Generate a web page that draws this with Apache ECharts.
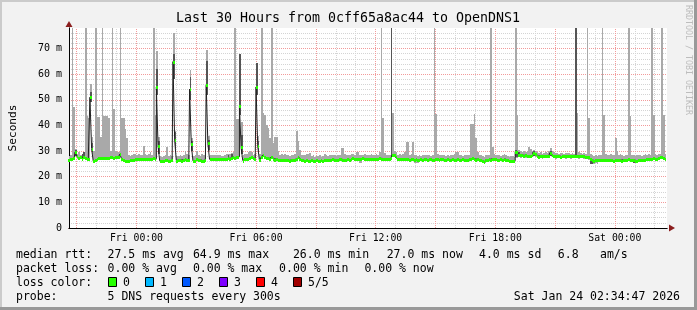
<!DOCTYPE html>
<html><head><meta charset="utf-8">
<script src="https://cdn.jsdelivr.net/npm/echarts@6/dist/echarts.min.js"></script>
<style>
html,body{margin:0;padding:0;background:#f2f2f2;}
#wrap{position:relative;width:697px;height:310px;overflow:hidden;}
#chart{position:absolute;left:0;top:0;width:697px;height:310px;}
.b{position:absolute;pointer-events:none;}
</style></head><body>
<div id="wrap"><div id="chart"></div>
<div class="b" style="left:0;top:0;width:697px;height:2px;background:#cbcbcb"></div>
<div class="b" style="left:0;top:0;width:2px;height:310px;background:#cbcbcb"></div>
<div class="b" style="right:0;top:0;width:3px;height:310px;background:#999"></div>
<div class="b" style="left:0;bottom:0;width:697px;height:3px;background:#999"></div>
</div>
<script>
// time in minutes relative to Fri 00:00; one step every 5 minutes
const stepStartMinute = -205;
const stepMinutes = 5;
const xMinMinute = -203;
const xMaxMinute = 1597;

// median RTT per 5-minute step (ms), one row per hour
const medianMs = [
 26.6,26.8,27,27.2,29.5,28,27.2,27.6,27,27.8,27.2,26.8,
 27,51,31,26,26.5,27,27.2,27.2,27.3,27.4,27.3,27.3,
 27.4,27.5,27.5,27.4,27.5,27.5,27.6,28.8,27,26.4,26.2,26.3,
 26.3,26.4,26.5,26.6,26.8,26.8,26.9,26.9,27,27,27,27,
 27,27,27,27.2,27,55,32,26.2,26,26.2,26.5,26.4,
 26.3,26.2,26.4,64.9,34.3,26.3,26.6,26.5,26.2,26.6,26.8,26.7,
 26.4,54.2,32.8,26.2,26.3,26.8,26.5,26.6,26.3,26.2,26.5,55.7,
 33,26.8,27,26.9,27,27,27.1,27,26.9,27,27,27,
 27.2,27,27.3,27.5,27.4,27.6,27.8,47.7,31.4,26.3,26.8,27,
 27,27.3,27.5,27.2,27,55,32,26.5,27.5,28.5,27.6,27.3,
 27.2,27,27.6,27,26.6,26.8,26.5,26.4,26.5,26.6,26.4,26.5,
 26.4,26.3,26.5,26.6,26.4,27,27.5,26.8,26.5,26.4,26.3,26.4,
 26.3,26.2,26.4,26.3,26.2,26.5,26.3,26.2,26.4,26.3,26.6,26.4,
 26.4,26.6,26.5,26.8,26.7,26.6,26.5,26.9,27,26.7,26.6,26.7,
 26.8,26.7,27,27.2,26.9,27,27.1,26.8,26.9,27.3,27,26.8,
 26.9,27,26.8,27.1,27,26.9,26.8,27.2,27,27.1,26.9,27,
 27,26.9,27.2,28.5,28.3,27.5,27,26.8,27,26.9,26.8,27,
 26.8,26.7,27,26.9,26.6,26.8,26.7,26.6,26.8,26.7,26.9,26.8,
 26.7,26.8,26.9,26.7,26.6,27,26.8,26.7,26.9,26.8,26.6,26.7,
 26.8,26.7,26.5,26.8,26.6,26.7,26.9,26.5,26.6,26.8,26.7,26.6,
 26.7,26.8,27,27.2,26.9,26.6,26.8,26.6,26.5,26.3,25.6,26.5,
 26.6,26.8,26.7,27,26.9,26.8,26.7,26.5,26.8,26.6,26.9,26.7,
 26.4,26.2,26.3,26,26.2,29.8,29.5,28.6,28.3,28.4,28.2,28.3,
 28.2,28,28.1,28.6,29.2,28.8,28.1,27.8,28,27.9,28.2,28,
 28,28.2,29.4,28.6,28.1,27.9,28,28.2,27.8,28,28.1,27.9,
 28,28.1,27.9,28,28.2,28.1,28,27.9,28,28.1,27.9,27.8,
 27.8,27.5,26.8,26.5,26.3,26.6,26.4,26.5,26.7,26.4,26.5,26.6,
 26.6,26.4,26.5,26.7,26.3,26.5,26.6,26.4,26.5,26.3,26.6,26.5,
 26.6,26.8,26.5,26.4,26.6,26.3,26.2,26.4,26.5,26.6,26.4,26.5,
 26.8,27,26.9,27.1,27.2,27,26.9,27.3,27.5,27.6,27.4,27
];

// slowest ping per step (top of the smoke, ms)
const smokeTopMs = [
 28,28.5,85,47,31,29,29.5,28.5,29,29.5,85,43.7,
 43,56,35.6,30,85,43.4,43.4,35.6,85,43.7,43.7,43.7,
 43,30,85,46.4,30,29.5,29.8,85,43,43,38.5,35,
 28.5,28,28.6,29,28.8,28.5,28.8,28.4,28.4,32,29,28.6,
 29,29.5,28.5,85,44,69,35.6,28,27.5,28,28.5,31.4,
 28,28.5,28,76,38,28,28.2,28.5,28,28.5,30,29,
 28.5,61.6,35,28,28.5,30,28.5,28,29,28.5,28,69.3,
 36,28.5,28.6,28.5,28.5,28.5,28.6,28.4,28.2,28,28.5,28.8,
 28.8,29,29.2,29.5,85,42.5,42.5,68,41.5,28.5,29,29,
 29.5,30,29.5,28.6,29,64.4,36,29,85,44.7,44,40,
 39,35,85,33,35.6,35.6,30,28.5,29,28.5,29,28.5,
 28.5,28,28.6,28.3,29,37.8,34,30.5,28.6,28.4,28.5,29,
 29,29.2,28,28.4,27.8,28.2,28,28.3,27.8,28.2,28.9,28.5,
 28.2,28.4,28.6,28.3,28.5,28.2,28.6,28.5,31.3,31.3,29,28.5,
 28.4,28.5,29,28.9,28.3,29.5,29.8,28.6,28.4,28.5,28.8,28.4,
 28.5,28.4,28.8,28.5,28.6,29,28.5,29.5,85,42.8,29.2,28.6,
 28.5,28.6,85,44.8,30,29.5,28.5,29,28.6,29,29.5,33.7,
 33.7,28.5,29,33.4,28.6,28.4,28,28.5,28.2,28.6,28.4,28.5,
 28.4,28.6,28.2,28.5,85,44.4,29,28.5,28.3,28.6,28.5,28.2,
 28.4,28.2,28.5,28.6,29,29.8,29.5,28.6,28.4,28.2,28.6,28.5,
 28.5,28.6,40.6,40.6,44.4,35,29.5,28.6,28.5,28.2,27.6,28.4,
 28.5,28.4,85,31.7,29,28.6,28.4,28.5,28.2,28.6,28.8,28.4,
 28,27.8,28.2,28,27.5,85,44,30.5,30.2,29.8,30,29.5,
 30,31.5,31,30,30.5,30,29.5,29.2,29.5,29,29.3,29.5,
 29.4,30,31.2,30,29.5,29.2,29.4,29,29.3,29.2,29,29.4,
 29.2,29.4,29,29.3,29,85,44.8,29.5,29.2,29,29.3,29,
 85,42.8,29,28.5,28.2,28.4,28,28.5,28.3,85,44,29,
 28.5,28.4,29,28.6,28.4,35,30,28.5,28.8,28.4,28.2,28.6,
 28.5,85,43.7,28.6,28.5,28.2,28.4,28.5,28.6,28.2,28.4,28.7,
 28.6,28.8,28.5,85,44,29,28.5,28.8,29,85,44,29
];

// fastest ping per step (bottom of the smoke, ms)
const smokeLowMs = [
 26,26.2,26.3,26.5,28,27,26.5,26.8,26.3,27,26.5,26.2,
 26.4,49,29,25.5,25.9,26.4,26.6,26.6,26.7,26.8,26.7,26.6,
 26.8,26.9,26.8,26.8,26.9,26.9,27,28,26.3,25.8,25.6,25.7,
 25.7,25.8,25.9,26,26.2,26.2,26.3,26.3,26.4,26.4,26.4,26.4,
 26.4,26.4,26.4,26.6,26.4,52,29,25.6,25.4,25.6,25.9,25.8,
 25.7,25.6,25.8,58,31,25.7,26,25.9,25.6,26,26.2,26.1,
 25.8,50,30,25.6,25.7,26.2,25.9,26,25.7,25.6,25.9,52,
 30,26.2,26.4,26.3,26.4,26.4,26.5,26.4,26.3,26.4,26.4,26.4,
 26.6,26.4,26.7,26.9,26.8,27,27.2,44,29,25.7,26.2,26.4,
 26.4,26.7,26.9,26.6,26.4,52,29,25.9,26.9,27.9,27,26.7,
 26.6,26.4,27,26.4,25.8,26.2,25.9,25.8,25.9,26,25.8,25.9,
 25.8,25.7,25.9,26,25.8,26.4,26.9,26.2,25.9,25.8,25.7,25.8,
 25.7,25.6,25.8,25.7,25.6,25.9,25.7,25.6,25.8,25.7,26,25.8,
 25.8,26,25.9,26.2,26.1,26,25.9,26.3,26.4,26.1,26,26.1,
 26.2,26.1,26.4,26.6,26.3,26.4,26.5,25.5,25.5,26.7,26.4,26.2,
 26.3,26.4,26.2,26.5,26.4,26.3,26.2,26.6,26.4,26.5,26.3,26.4,
 26.4,26.3,26.6,27.9,27.7,26.9,26.4,26.2,26.4,26.3,26.2,26.4,
 26.2,26.1,26.4,26.3,25.2,25.3,25.4,26,26.2,26.1,26.3,26.2,
 26.1,26.2,26.3,26.1,26,26.4,26.2,26.1,26.3,26.2,26,26.1,
 26.2,26.1,25.9,26.2,26,26.1,26.3,25.9,26,26.2,26.1,26,
 26.1,26.2,26.4,26.6,26.3,26,26.2,26,25.9,25.7,25,25.9,
 26,26.2,26.1,26.4,26.3,26.2,26.1,25.9,26.2,26,26.3,26.1,
 25.8,25.6,25.7,25.4,25.6,27.2,27.3,27.5,27.4,27.5,27.3,27.4,
 27.3,27.2,27.3,27.6,28,27.8,27.3,27,27.2,27.1,27.4,27.2,
 27.2,27.4,28.2,27.6,27.3,27.1,27.2,27.4,27,27.2,27.3,27.1,
 27.2,27.3,27.1,27.2,27.4,27.3,27.2,27.1,27.2,27.3,27.1,27,
 26.8,26.5,25,24.8,25,25.2,25,25.6,25.9,25.7,25.8,25.9,
 25.9,25.7,25.8,26,25.6,25.8,25.9,25.7,25.8,25.6,25.9,25.8,
 25.9,26.1,25.8,25.7,25.3,25.2,25.3,25.7,25.8,25.9,25.7,25.8,
 26.1,26.3,26.2,26.4,26.5,26.3,26.2,26.6,26.8,26.9,26.7,26.3
];

// steps where the inner (dark) smoke band is visible
const darkSteps  = [4, 8, 9, 13, 14, 53, 54, 63, 64, 73, 74, 83, 84, 96, 98, 103, 104, 113, 114, 194, 269, 270, 271, 279, 280, 290, 305, 314, 315, 340, 341];
const darkLowMs  = [28, 27, 27.5, 49, 29.5, 52, 29, 58, 31, 50, 30, 52, 30.5, 27, 27.2, 44, 29, 52, 29, 27.5, 27.5, 27.5, 27.6, 27.6, 28, 28.2, 27.5, 25, 24.8, 25.3, 25.2];
const darkHighMs = [30.5, 29, 29.5, 53, 33, 62, 34, 68, 37.6, 59, 34, 65, 34.5, 28.6, 29, 67.7, 36.3, 64.2, 34, 85, 30.4, 30.2, 29.5, 29.6, 30, 30.2, 85, 26.5, 26.3, 26.4, 26.2];

// grid and tick positions
const hourGridMinutes = [-180,-120,-60,0,60,120,180,240,300,360,420,480,540,600,660,720,780,840,900,960,1020,1080,1140,1200,1260,1320,1380,1440,1500,1560];
const majorGridMinutes = [-180,0,180,360,540,720,900,1080,1260,1440];
const xTickMinutes = [0,360,720,1080,1440];
const xTickLabels = ['Fri 00:00','Fri 06:00','Fri 12:00','Fri 18:00','Sat 00:00'];
const yMax = 78;
const yMinorGrid = [2,4,6,8,12,14,16,18,22,24,26,28,32,34,36,38,42,44,46,48,52,54,56,58,62,64,66,68,72,74,76];
const yMajorGrid = [10,20,30,40,50,60,70];

const smokeData = medianMs.map((m, i) => [stepStartMinute + i*stepMinutes, stepStartMinute + (i+1)*stepMinutes, smokeLowMs[i], smokeTopMs[i]]);
const darkData = darkSteps.map((s, k) => [stepStartMinute + s*stepMinutes, stepStartMinute + (s+1)*stepMinutes, darkLowMs[k], darkHighMs[k]]);
const medianLine = medianMs.map((m, i) => [stepStartMinute + i*stepMinutes + stepMinutes/2, m]);
const medianBars = medianMs.map((m, i) => [stepStartMinute + i*stepMinutes, stepStartMinute + (i+1)*stepMinutes, m]);

function rectRenderer(color) {
  return function (params, api) {
    const a = api.coord([api.value(0), api.value(3)]);
    const b = api.coord([api.value(1), api.value(2)]);
    const x0 = Math.round(a[0]), x1 = Math.round(b[0]);
    const y0 = Math.round(a[1]), y1 = Math.round(b[1]);
    const cs = params.coordSys;
    const shape = echarts.graphic.clipRectByRect(
      {x: x0, y: y0, width: x1 - x0, height: y1 - y0},
      {x: cs.x, y: cs.y, width: cs.width, height: cs.height});
    return shape ? {type: 'rect', shape: shape, style: {fill: color}} : null;
  };
}

const mono = '"DejaVu Sans Mono", monospace';
function txt(x, y, s, size, extra) {
  return Object.assign({type: 'text', x: x, y: y, silent: true,
    style: {text: s, font: size + 'px ' + mono, fill: '#000', textAlign: 'left', textVerticalAlign: 'middle', align: 'left', verticalAlign: 'middle'}}, extra || {});
}
const lossColors = ['#26ff00','#00b8ff','#0059ff','#7e00ff','#ff0000','#a00000'];
const lossLabels = ['0','1','2','3','4','5/5'];
const lossBoxX = [108,145,182,219,256,293];

const graphics = [];
graphics.push({type:'text', x:348, y:19, silent:true, style:{text:'Last 30 Hours from 0cff65a8ac44 to OpenDNS1', font:'13.3px '+mono, fill:'#000', textAlign:'center', textVerticalAlign:'middle', align:'center', verticalAlign:'middle'}});
graphics.push({type:'text', x:688, y:60, rotation:-Math.PI/2, silent:true, style:{text:'RRDTOOL / TOBI OETIKER', font:'8.3px '+mono, fill:'#bdbdbd', textAlign:'center', textVerticalAlign:'middle', align:'center', verticalAlign:'middle'}});
const row1 = 255, row2 = 269, row3 = 283, row4 = 297, lf = 11.5;
[[16,'median rtt:'],[107.6,'27.5 ms avg'],[192.9,'64.9 ms max'],[292.9,'26.0 ms min'],[386.7,'27.0 ms now'],[479,'4.0 ms sd'],[557.8,'6.8'],[600,'am/s']]
  .forEach(p => graphics.push(txt(p[0], row1, p[1], lf)));
[[16,'packet loss:'],[107.6,'0.00 % avg'],[192.9,'0.00 % max'],[279.1,'0.00 % min'],[364.4,'0.00 % now']]
  .forEach(p => graphics.push(txt(p[0], row2, p[1], lf)));
graphics.push(txt(16, row3, 'loss color:', lf));
lossColors.forEach((c, i) => {
  graphics.push({type:'rect', silent:true, shape:{x:lossBoxX[i]+0.5, y:277.5, width:8, height:9}, style:{fill:c, stroke:'#000', lineWidth:1}});
  graphics.push(txt(lossBoxX[i]+15, row3, lossLabels[i], lf));
});
graphics.push(txt(16, row4, 'probe:', lf));
graphics.push(txt(107.6, row4, '5 DNS requests every 300s', lf));
graphics.push({type:'text', x:680, y:row4, silent:true, style:{text:'Sat Jan 24 02:34:47 2026', font:lf+'px '+mono, fill:'#000', textAlign:'right', textVerticalAlign:'middle', align:'right', verticalAlign:'middle'}});

const gridLineStyle = (color) => ({color: color, width: 1, type: [1, 1]});

const chart = echarts.init(document.getElementById('chart'), null, {renderer: 'canvas'});
chart.setOption({
  animation: false,
  backgroundColor: 'transparent',
  grid: {left: 67, right: 30, top: 28, bottom: 82, show: true, backgroundColor: '#ffffff', borderWidth: 0},
  xAxis: [
    {type:'value', min:xMinMinute, max:xMaxMinute, position:'bottom', z:1,
     axisLine:{show:true, onZero:false, lineStyle:{color:'#8b1e1e', width:1}, symbol:['none','triangle'], symbolSize:[7,6], symbolOffset:[0,5]},
     axisTick:{show:false}, axisLabel:{show:false}, splitLine:{show:false}},
    {type:'value', min:xMinMinute, max:xMaxMinute, position:'bottom', z:2,
     axisLine:{show:true, onZero:false, lineStyle:{color:'#000', width:1}},
     axisTick:{show:false}, splitLine:{show:false},
     axisLabel:{customValues:xTickMinutes, formatter:(v)=>xTickLabels[xTickMinutes.indexOf(v)], color:'#000', fontFamily:'DejaVu Sans Mono', fontSize:9.8, margin:5}}
  ],
  yAxis: [
    {type:'value', min:0, max:yMax, position:'left', z:1,
     axisLine:{show:true, onZero:false, lineStyle:{color:'#8b1e1e', width:1}, symbol:['none','triangle'], symbolSize:[7,6], symbolOffset:[0,4]},
     axisTick:{show:false}, axisLabel:{show:false}, splitLine:{show:false}},
    {type:'value', min:0, max:yMax, interval:10, position:'left', z:2,
     axisLine:{show:true, onZero:false, lineStyle:{color:'#000', width:1}},
     axisTick:{show:false}, splitLine:{show:false},
     axisLabel:{color:'#000', fontFamily:'DejaVu Sans Mono', fontSize:10, margin:7, showMaxLabel:false, formatter:(v)=> v === 0 ? '0' : v + ' m'},
     name:'Seconds', nameLocation:'middle', nameGap:50, nameTextStyle:{color:'#000', fontFamily:'DejaVu Sans Mono', fontSize:11.2}}
  ],
  graphic: graphics,
  series: [
    {type:'line', xAxisIndex:1, yAxisIndex:1, data:[], z:1, silent:true,
     markLine:{z:1, silent:true, symbol:['none','none'], label:{show:false}, animation:false, lineStyle:gridLineStyle('#d4d4d4'),
       emphasis:{disabled:true},
       data: hourGridMinutes.map(v => ({xAxis:v})).concat(yMinorGrid.map(v => ({yAxis:v})))}},
    {type:'line', xAxisIndex:1, yAxisIndex:1, data:[], z:1, silent:true,
     markLine:{z:1, silent:true, symbol:['none','none'], label:{show:false}, animation:false, lineStyle:gridLineStyle('#f29a9a'),
       emphasis:{disabled:true},
       data: majorGridMinutes.map(v => ({xAxis:v})).concat(yMajorGrid.map(v => ({yAxis:v})))}},
    {type:'custom', name:'smoke', xAxisIndex:1, yAxisIndex:1, z:3, silent:true,
     renderItem: rectRenderer('#a9a9a9'), encode:{x:[0,1], y:[2,3]}, data: smokeData},
    {type:'custom', name:'smoke inner', xAxisIndex:1, yAxisIndex:1, z:4, silent:true,
     renderItem: rectRenderer('#555555'), encode:{x:[0,1], y:[2,3]}, data: darkData},
    {type:'line', name:'median', xAxisIndex:1, yAxisIndex:1, z:5, silent:true, step:'middle', symbol:'none',
     lineStyle:{color:'#202020', width:1}, data: medianLine},
    {type:'custom', name:'median loss 0', xAxisIndex:1, yAxisIndex:1, z:6, silent:true,
     encode:{x:[0,1], y:2}, data: medianBars,
     renderItem: function (params, api) {
       const a = api.coord([api.value(0), api.value(2)]);
       const b = api.coord([api.value(1), api.value(2)]);
       const x0 = Math.round(a[0]), x1 = Math.round(b[0]);
       const cy = Math.round(a[1]);
       return {type:'rect', shape:{x:x0, y:cy-1, width:x1-x0, height:3}, style:{fill:'#26ff00'}};
     }}
  ]
});
</script>
</body></html>
